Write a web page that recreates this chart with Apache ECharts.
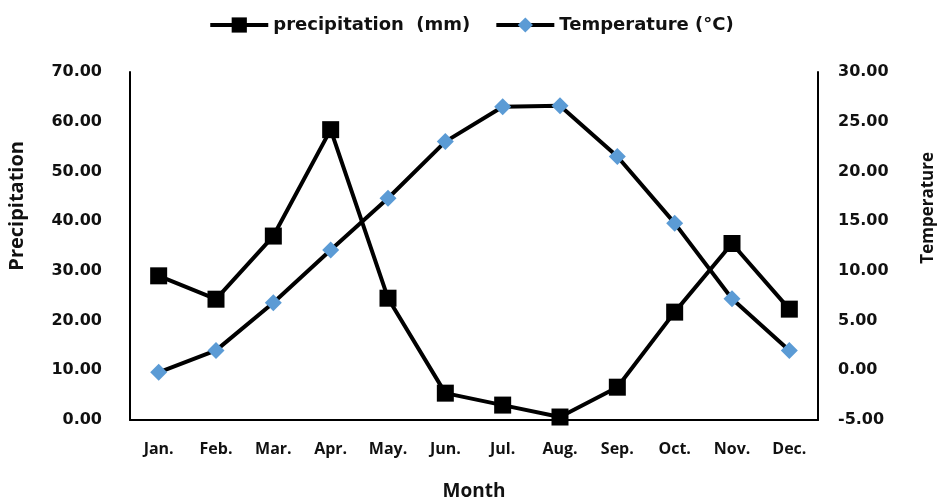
<!DOCTYPE html>
<html>
<head>
<meta charset="utf-8">
<script src="https://cdn.jsdelivr.net/npm/echarts@6/dist/echarts.min.js"></script>
<style>html,body{margin:0;padding:0;background:#fff;}#c{width:942px;height:498px;}</style>
</head>
<body>
<div id="c"></div>
<script>
const months = ['Jan.', 'Feb.', 'Mar.', 'Apr.', 'May.', 'Jun.', 'Jul.', 'Aug.', 'Sep.', 'Oct.', 'Nov.', 'Dec.'];
const precipitation = [29.0, 24.3, 37.0, 58.4, 24.5, 5.4, 3.0, 0.6, 6.6, 21.7, 35.5, 22.3];
const temperature = [-0.2, 2.0, 6.8, 12.1, 17.3, 23.0, 26.5, 26.6, 21.5, 14.8, 7.2, 2.0];
const precipName = 'precipitation  (mm)';
const tempName = 'Temperature (°C)';

const chart = echarts.init(document.getElementById('c'));
const tickFont = { fontFamily: 'DejaVu Sans', fontWeight: 'bold', fontSize: 16, color: '#111' };
chart.setOption({
  animation: false,
  backgroundColor: '#fff',
  legend: {
    top: 11, left: 'center',
    itemWidth: 58, itemHeight: 19, itemGap: 24,
    lineStyle: { width: 4 },
    textStyle: { fontFamily: 'DejaVu Sans', fontWeight: 'bold', fontSize: 18, color: '#111' },
    data: [precipName, tempName]
  },
  grid: { left: 130, right: 124, top: 72, bottom: 78, containLabel: false, outerBoundsMode: 'none' },
  xAxis: {
    type: 'category', data: months, boundaryGap: true,
    axisLine: { lineStyle: { color: '#000', width: 2 } },
    axisTick: { show: false },
    axisLabel: { margin: 21, fontFamily: 'Open Sans', fontWeight: 'bold', fontSize: 16, color: '#111' },
    name: 'Month', nameLocation: 'middle', nameGap: 62,
    nameTextStyle: { fontFamily: 'Open Sans', fontWeight: 'bold', fontSize: 19, color: '#111' }
  },
  yAxis: [
    {
      type: 'value', min: 0, max: 70, interval: 10, position: 'left',
      axisLine: { show: true, lineStyle: { color: '#000', width: 2 } },
      axisTick: { show: false }, splitLine: { show: false },
      axisLabel: Object.assign({ margin: 28, formatter: v => v.toFixed(2) }, tickFont)
    },
    {
      type: 'value', min: -5, max: 30, interval: 5, position: 'right',
      axisLine: { show: true, lineStyle: { color: '#000', width: 2 } },
      axisTick: { show: false }, splitLine: { show: false },
      axisLabel: Object.assign({ margin: 20, formatter: v => v.toFixed(2) }, tickFont)
    }
  ],
  graphic: [
    { type: 'text', left: 7, top: 141, rotation: Math.PI / 2,
      style: { text: 'Precipitation', fontFamily: 'Open Sans', fontWeight: 'bold', fontSize: 20, fill: '#111' } },
    { type: 'text', left: 920, top: 152, rotation: Math.PI / 2,
      style: { text: 'Temperature', fontFamily: 'Open Sans', fontWeight: 'bold', fontSize: 17, fill: '#111' } }
  ],
  series: [
    {
      name: precipName, type: 'line', yAxisIndex: 0, data: precipitation,
      symbol: 'rect', symbolSize: 17,
      lineStyle: { color: '#000', width: 4 },
      itemStyle: { color: '#000' }
    },
    {
      name: tempName, type: 'line', yAxisIndex: 1, data: temperature,
      symbol: 'diamond', symbolSize: 17,
      lineStyle: { color: '#000', width: 4 },
      itemStyle: { color: '#5B9BD5' }
    }
  ]
});
</script>
</body>
</html>
